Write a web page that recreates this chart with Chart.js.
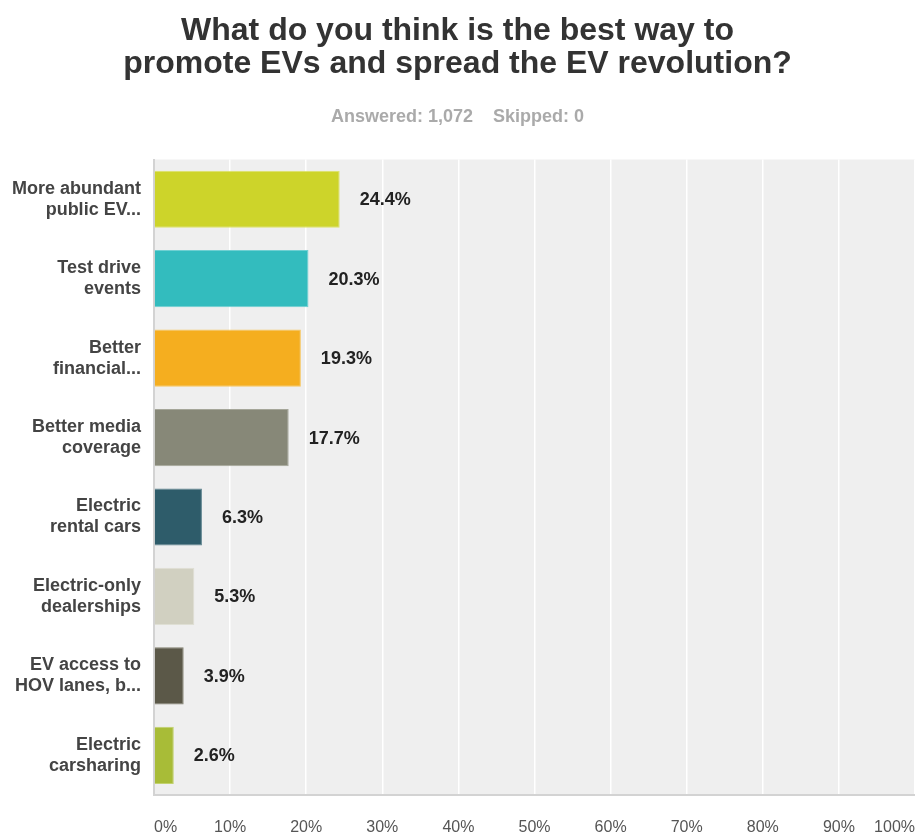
<!DOCTYPE html>
<html>
<head>
<meta charset="utf-8">
<title>Best way to promote EVs</title>
<script src="https://cdn.jsdelivr.net/npm/chart.js@4.4.0/dist/chart.umd.min.js"></script>
<style>
  html, body { margin: 0; padding: 0; background: #fff; overflow: hidden; }
  #wrap { width: 915px; height: 832px; }
</style>
</head>
<body>
<div id="wrap"><canvas id="chart"></canvas></div>
<script>
// survey answers, top to bottom
var answers = [
    ['More abundant', 'public EV...'],
    ['Test drive', 'events'],
    ['Better', 'financial...'],
    ['Better media', 'coverage'],
    ['Electric', 'rental cars'],
    ['Electric-only', 'dealerships'],
    ['EV access to', 'HOV lanes, b...'],
    ['Electric', 'carsharing']
];
var shares = [24.4, 20.3, 19.3, 17.7, 6.3, 5.3, 3.9, 2.6];
var barColors = ['#cdd42a', '#33bcbe', '#f5ae1f', '#878878', '#2e5c6a', '#d1d0c1', '#5b5848', '#a8bc37'];
var edgeColors = ['#dde36a', '#6fd0d2', '#f8c660', '#a5a699', '#5f8490', '#dfdfd4', '#82806f', '#c2d26e'];
var xTicks = [0, 10, 20, 30, 40, 50, 60, 70, 80, 90, 100];

var fontFamily = '"Liberation Sans", Arial, sans-serif';

// grey panel behind the bars
var plotBackground = {
    id: 'plotBackground',
    beforeDraw: function(chart) {
        var a = chart.chartArea, ctx = chart.ctx;
        ctx.save();
        ctx.fillStyle = '#efefef';
        ctx.fillRect(a.left, a.top, a.right - a.left, a.bottom - a.top);
        ctx.restore();
    }
};

// percentage written just past the end of each bar
var valueLabels = {
    id: 'valueLabels',
    afterDatasetsDraw: function(chart) {
        var ctx = chart.ctx;
        var meta = chart.getDatasetMeta(0);
        ctx.save();
        ctx.font = 'bold 18px ' + fontFamily;
        ctx.fillStyle = '#222';
        ctx.textAlign = 'left';
        ctx.textBaseline = 'middle';
        meta.data.forEach(function(bar, i) {
            ctx.fillText(shares[i].toFixed(1) + '%', bar.x + 20, bar.y + 1);
        });
        ctx.restore();
    }
};

document.addEventListener("DOMContentLoaded", function() {
    var ctx = document.getElementById('chart').getContext('2d');
    var chart = new Chart(ctx, {
        type: 'bar',
        data: {
            labels: answers,
            datasets: [{
                data: shares,
                backgroundColor: barColors,
                borderColor: edgeColors,
                borderWidth: 1,
                barPercentage: 0.72,
                categoryPercentage: 1
            }]
        },
        options: {
            indexAxis: 'y',
            responsive: true,
            maintainAspectRatio: false,
            animation: false,
            layout: { padding: 0 },
            plugins: {
                legend: { display: false },
                tooltip: { enabled: true },
                title: {
                    display: true,
                    text: ['What do you think is the best way to', 'promote EVs and spread the EV revolution?'],
                    color: '#333',
                    font: { family: fontFamily, size: 32, weight: 'bold', lineHeight: 1.03 },
                    padding: { top: 15, bottom: 0 }
                },
                subtitle: {
                    display: true,
                    text: 'Answered: 1,072    Skipped: 0',
                    color: '#aaa',
                    font: { family: fontFamily, size: 18, weight: 'bold', lineHeight: 1.2 },
                    padding: { top: 25, bottom: 32 }
                }
            },
            scales: {
                x: {
                    type: 'linear',
                    min: 0,
                    max: 100,
                    afterBuildTicks: function(scale) {
                        scale.ticks = xTicks.map(function(v) { return { value: v }; });
                    },
                    afterFit: function(scale) {
                        // first and last labels sit inside the axis, so no side margins
                        scale.height = 37;
                        scale.paddingLeft = 0;
                        scale.paddingRight = 0;
                    },
                    ticks: {
                        align: 'inner',
                        padding: 23,
                        color: '#555',
                        font: { family: fontFamily, size: 16 },
                        callback: function(v) { return v + '%'; }
                    },
                    grid: { color: '#ffffff', lineWidth: 1.5, drawTicks: false },
                    border: { color: '#d3d3d3', width: 2 }
                },
                y: {
                    afterFit: function(scale) { scale.width = 154; },
                    ticks: {
                        padding: 13,
                        color: '#444',
                        font: { family: fontFamily, size: 18, weight: 'bold', lineHeight: 1.17 }
                    },
                    grid: { display: false, drawTicks: false },
                    border: { color: '#d3d3d3', width: 2 }
                }
            }
        },
        plugins: [plotBackground, valueLabels]
    });
});
</script>
</body>
</html>
